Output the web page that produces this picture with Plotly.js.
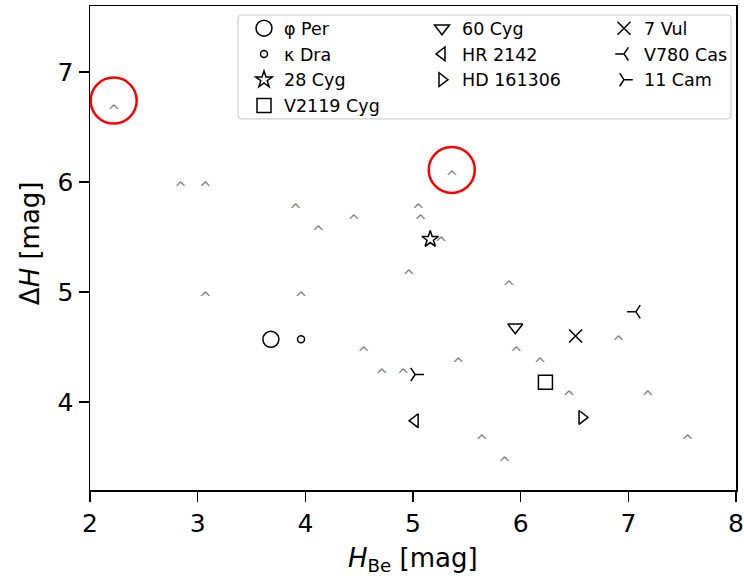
<!DOCTYPE html>
<html>
<head>
<meta charset="utf-8">
<script src="https://cdn.plot.ly/plotly-3.0.1.min.js"></script>
<style>
  html, body { margin: 0; padding: 0; background: #fff; }
  #chart { width: 744px; height: 576px; }
</style>
</head>
<body>
<div id="chart"></div>
<script>
// Comparison sample (grey carets; the caret tip marks the value)
const sampleHBe    = [2.22, 2.84, 3.07, 3.91, 4.12, 4.45, 3.07, 3.96, 5.36, 5.05, 5.07, 5.26, 4.96,
                      5.89, 6.91, 5.96, 5.42, 6.18, 4.91, 4.71, 4.54, 6.45, 7.18, 5.64, 7.55, 5.85];
const sampleDeltaH = [6.7, 6.0, 6.0, 5.8, 5.6, 5.7, 5.0, 5.0, 6.1, 5.8, 5.7, 5.5, 5.2,
                      5.1, 4.6, 4.5, 4.4, 4.4, 4.3, 4.3, 4.5, 4.1, 4.1, 3.7, 3.7, 3.5];

// Named Be stars
const starNames    = ['φ Per', 'κ Dra', '28 Cyg', 'V2119 Cyg', '60 Cyg', 'HR 2142', 'HD 161306', '7 Vul', 'V780 Cas', '11 Cam'];
const starHBe      = [3.68, 3.96, 5.16, 6.23, 5.95, 5.02, 6.57, 6.51, 7.07, 5.02];
const starDeltaH   = [4.57, 4.57, 5.48, 4.18, 4.68, 3.83, 3.86, 4.60, 4.82, 4.25];
const starSymbols  = ['circle-open', 'circle-open', 'star-open', 'square-open', 'triangle-down-open',
                      'triangle-left-open', 'triangle-right-open', 'x-thin-open', 'y-left', 'y-right'];
const starSizes    = [16, 7, 12.5, 14, 13, 12, 12, 13, 11, 11];
const legendColumn = ['legend', 'legend', 'legend', 'legend', 'legend2', 'legend2', 'legend2', 'legend3', 'legend3', 'legend3'];

// Highlighted objects (red rings)
const ringHBe    = [2.22, 5.36];
const ringDeltaH = [6.74, 6.11];

const FONT = 'DejaVu Sans';

const traces = [];

traces.push({
  type: 'scatter', mode: 'text',
  x: sampleHBe, y: sampleDeltaH,
  text: sampleHBe.map(() => '^'),
  textposition: 'bottom center',
  textfont: { family: FONT, size: 15, color: '#808080' },
  showlegend: false, hoverinfo: 'skip'
});

traces.push({
  type: 'scatter', mode: 'markers',
  x: ringHBe, y: ringDeltaH,
  marker: { symbol: 'circle-open', size: 46, color: '#ff0000', line: { color: '#ff0000', width: 2.5 } },
  showlegend: false, hoverinfo: 'skip'
});

starNames.forEach((name, i) => {
  traces.push({
    type: 'scatter', mode: 'markers', name: name, legend: legendColumn[i],
    x: [starHBe[i]], y: [starDeltaH[i]],
    marker: { symbol: starSymbols[i], size: starSizes[i], color: '#000000',
              line: { color: '#000000', width: 1.5 } }
  });
});

// legend frame (rounded box), in paper units of the 646 x 484.5 px plot area
const PW = 646, PH = 484.5;
const bx0 = 148 / PW, bx1 = 641 / PW, by0 = 371.5 / PH, by1 = 475.5 / PH;
const rx = 4 / PW, ry = 4 / PH;
const framePath = `M ${bx0 + rx},${by1} L ${bx1 - rx},${by1} Q ${bx1},${by1} ${bx1},${by1 - ry} ` +
                  `L ${bx1},${by0 + ry} Q ${bx1},${by0} ${bx1 - rx},${by0} L ${bx0 + rx},${by0} ` +
                  `Q ${bx0},${by0} ${bx0},${by0 + ry} L ${bx0},${by1 - ry} Q ${bx0},${by1} ${bx0 + rx},${by1} Z`;

const axisCommon = {
  showgrid: false, zeroline: false,
  showline: true, linecolor: '#000000', linewidth: 1.5, mirror: true,
  ticks: 'outside', ticklen: 10, tickwidth: 1.5, tickcolor: '#000000',
  tickfont: { family: FONT, size: 25, color: '#000000' },
  dtick: 1
};

function legendColumnLayout(leftPx) {
  return {
    orientation: 'v', x: leftPx / PW, xanchor: 'left', y: 480.2 / PH, yanchor: 'top',
    bgcolor: 'rgba(0,0,0,0)', borderwidth: 0,
    font: { family: FONT, size: 17.5, color: '#000000' },
    traceorder: 'normal'
  };
}

const layout = {
  width: 744, height: 576,
  margin: { l: 90, r: 8, t: 6, b: 85.5 },
  paper_bgcolor: '#ffffff', plot_bgcolor: '#ffffff',
  font: { family: FONT, color: '#000000' },
  xaxis: Object.assign({}, axisCommon, { range: [2, 8], tick0: 2 }),
  yaxis: Object.assign({}, axisCommon, { range: [3.2, 7.6], tick0: 4 }),
  showlegend: true,
  legend: legendColumnLayout(154),
  legend2: legendColumnLayout(332),
  legend3: legendColumnLayout(514),
  shapes: [{
    type: 'path', xref: 'paper', yref: 'paper', path: framePath,
    fillcolor: 'rgba(255,255,255,0.8)', line: { color: '#d0d0d0', width: 1.2 }, layer: 'above'
  }],
  annotations: [
    { xref: 'paper', yref: 'paper', x: 0.5, y: -69.5 / PH, xanchor: 'center', yanchor: 'middle',
      text: '<i>H</i><sub>Be</sub> [mag]', showarrow: false, font: { family: FONT, size: 26, color: '#000000' } },
    { xref: 'paper', yref: 'paper', x: -60 / PW, y: 0.51, xanchor: 'center', yanchor: 'middle', textangle: -90,
      text: 'Δ<i>H</i> [mag]', showarrow: false, font: { family: FONT, size: 26, color: '#000000' } }
  ]
};

Plotly.newPlot('chart', traces, layout, { displayModeBar: false, staticPlot: true });
</script>
</body>
</html>
